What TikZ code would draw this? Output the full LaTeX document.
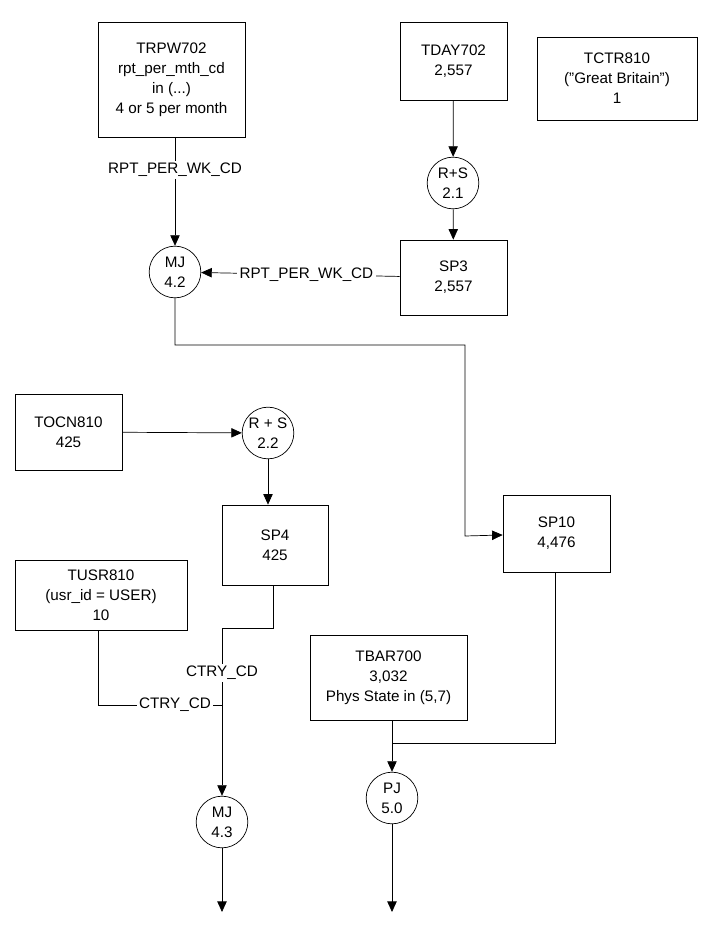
\documentclass[tikz,border=0pt]{standalone}
\usepackage{fontspec}
\setmainfont{Liberation Sans}
\usetikzlibrary{arrows.meta}
\begin{document}
\begin{tikzpicture}[
    x=0.03cm, y=-0.03cm,
    font=\fontsize{13}{17}\selectfont,
    line width=0.6pt,
    tbl/.style={draw, align=center, inner sep=0pt},
    proc/.style={draw, circle, align=center, minimum size=1.55cm, inner sep=0pt},
    lbl/.style={fill=white, inner sep=2pt},
    normal line/.style={-{Triangle[length=9pt,width=8pt]}},
]
\useasboundingbox (0,0) rectangle (714,951);
\node[tbl, minimum width=147*0.03cm, minimum height=115*0.03cm] (trpw) at (171.5,79.5) {TRPW702\\rpt\_per\_mth\_cd\\in (...)\\4 or 5 per month};
\node[tbl, minimum width=107*0.03cm, minimum height=78*0.03cm] (tday) at (453.5,61) {TDAY702\\2,557};
\node[tbl, minimum width=160*0.03cm, minimum height=83*0.03cm] (tctr) at (617,78.5) {TCTR810\\(\symbol{34}Great Britain\symbol{34})\\1};
\node[proc] (rs1) at (453,183) {R+S\\2.1};
\node[tbl, minimum width=107*0.03cm, minimum height=75*0.03cm] (sp3) at (453.5,277.5) {SP3\\2,557};
\node[proc] (mj2) at (175,272) {MJ\\4.2};
\node[tbl, minimum width=107*0.03cm, minimum height=76*0.03cm] (tocn) at (68.5,432) {TOCN810\\425};
\node[proc] (rs2) at (268,433) {R + S\\2.2};
\node[tbl, minimum width=106*0.03cm, minimum height=80*0.03cm] (sp4) at (275,545) {SP4\\425};
\node[tbl, minimum width=107*0.03cm, minimum height=77*0.03cm] (sp10) at (556.5,533.5) {SP10\\4,476};
\node[tbl, minimum width=172*0.03cm, minimum height=70*0.03cm] (tusr) at (101,595) {TUSR810\\(usr\_id = USER)\\10};
\node[tbl, minimum width=157*0.03cm, minimum height=85*0.03cm] (tbar) at (388.5,677.5) {TBAR700\\3,032\\Phys State in (5,7)};
\node[proc] (mj3) at (222,822) {MJ\\4.3};
\node[proc] (pj) at (392,798) {PJ\\5.0};
\coordinate (out3) at (222,912);
\coordinate (out5) at (392,912);
% joins
\coordinate (j1) at (175,345);
\coordinate (j2) at (465,345);
\coordinate (j3) at (465,536);
\coordinate (j4) at (273,628);
\coordinate (j5) at (222,628);
\coordinate (j6) at (98,705);
\coordinate (j7) at (222,705);
\coordinate (j8) at (555,743);
\coordinate (j9) at (392,743);
\path[normal line]
    (trpw.south -| mj2) edge node[lbl, pos=0.3] {RPT\_PER\_WK\_CD} (mj2)
    (tday) edge (rs1)
    (rs1) edge (sp3)
    (sp3) edge node[lbl, pos=0.47] {RPT\_PER\_WK\_CD} (mj2)
    (tocn) edge (rs2)
    (rs2) edge (rs2 |- sp4.north)
    (mj3) edge (out3)
    (pj) edge (out5)
    (tbar.south -| pj) edge (pj);
\draw[normal line] (mj2) -- (j1) -- (j2) -- (j3) -- (sp10);
\draw[normal line] (sp4.south -| j4) -- (j4) -- (j5) -- (mj3);
\node[lbl] at (222,673) {CTRY\_CD};
\draw (tusr.south -| j6) -- (j6) -- (j7);
\node[lbl] at (175,705) {CTRY\_CD};
\draw (sp10.south -| j8) -- (j8) -- (j9);
\end{tikzpicture}
\end{document}
